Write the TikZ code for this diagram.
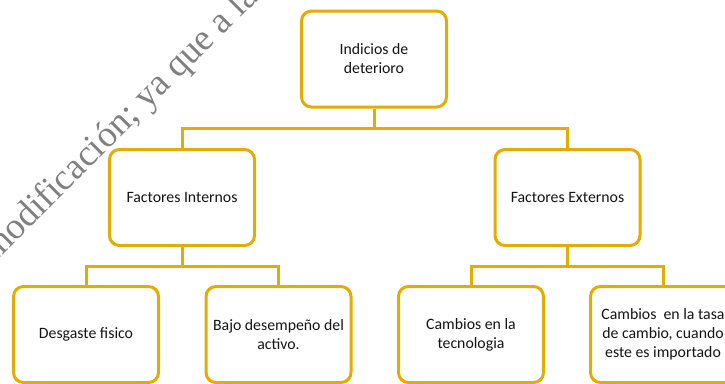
\documentclass[tikz,border=0pt]{standalone}
\usepackage{fontspec}
\setmainfont{Carlito}
\newfontfamily\wmfont{Liberation Serif}
\definecolor{gold}{RGB}{229,172,0}
\definecolor{wmgray}{RGB}{128,128,128}
\definecolor{txt}{RGB}{20,20,20}
\begin{document}
\begin{tikzpicture}[x=1pt,y=-1pt,
  box/.style={draw=gold, line width=3pt, rounded corners=10pt, fill=white,
    minimum width=145pt, minimum height=96pt, align=center, text=txt,
    font=\fontsize{15.8pt}{19pt}\selectfont, inner sep=2pt},
  conn/.style={draw=gold, line width=3pt}]
\useasboundingbox (0,0) rectangle (725,383);
\node[text=wmgray, font=\wmfont\fontsize{37pt}{42pt}\selectfont,
  rotate=45, anchor=base west, inner sep=0pt] (wm) at (-5,263) {modificación; ya que a la};
\node[box] (top) at (374,59) {Indicios de\\deterioro};
\node[box] (fi) at (182,197.5) {Factores Internos};
\node[box] (fe) at (567.5,197.5) {Factores Externos};
\node[box] (b1) at (86,334.5) {Desgaste fisico};
\node[box] (b2) at (278.5,334.5) {Bajo desempeño del\\activo.};
\node[box] (b3) at (471,334.5) {Cambios en la\\tecnologia};
\node[box] (b4) at (663,334.5) {Cambios\ \ en la tasa\\de cambio, cuando\\este es importado};
\coordinate (h1) at (0,128);
\coordinate (h2) at (0,266);
\draw[conn] (top.south) -- (top.south |- h1) -| (fi.north);
\draw[conn] (top.south |- h1) -| (fe.north);
\draw[conn] (fi.south) -- (fi.south |- h2) -| (b1.north);
\draw[conn] (fi.south |- h2) -| (b2.north);
\draw[conn] (fe.south) -- (fe.south |- h2) -| (b3.north);
\draw[conn] (fe.south |- h2) -| (b4.north);
\end{tikzpicture}
\end{document}
